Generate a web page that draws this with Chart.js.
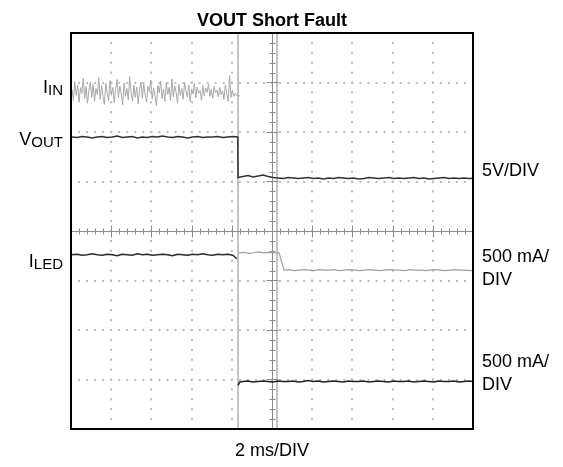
<!DOCTYPE html>
<html>
<head>
<meta charset="utf-8">
<title>VOUT Short Fault</title>
<script src="https://cdn.jsdelivr.net/npm/chart.js@4.4.1/dist/chart.umd.min.js"></script>
<style>
  body { margin: 0; background: #fff; }
  #scope { display: block; }
</style>
</head>
<body>
<canvas id="scope" width="563" height="467"></canvas>
<script>
// Datos (x en ms, y en divisiones desde el centro)
const timeMin = -10;
const timeMax = 10;
const divMin = -4;
const divMax = 4;

// IIN antes del fallo (ruidoso)
const iinStart = -9.95;
const iinStep = 0.07;
const iinValues = [
  2.86, 2.64, 3.02, 2.74, 2.95, 2.60, 2.90, 2.78, 3.08, 2.68,
  2.92, 2.58, 2.84, 3.00, 2.70, 2.96, 2.62, 2.88, 2.76, 3.10,
  2.66, 2.94, 2.72, 2.56, 2.98, 2.80, 2.63, 3.04, 2.74, 2.90,
  2.59, 2.86, 3.06, 2.69, 2.93, 2.77, 2.55, 2.99, 2.72, 2.88,
  2.65, 3.12, 2.78, 2.62, 2.95, 2.70, 2.91, 2.57, 2.84, 3.01,
  2.68, 2.97, 2.75, 2.60, 2.92, 2.82, 3.05, 2.66, 2.89, 2.73,
  2.53, 2.94, 2.79, 3.03, 2.67, 2.87, 2.62, 2.99, 2.76, 2.90,
  2.64, 3.07, 2.71, 2.93, 2.80, 2.58, 2.96, 2.74, 2.88, 2.66,
  3.00, 2.83, 2.70, 2.95, 2.61, 2.87, 2.77, 2.98, 2.69, 2.91,
  2.78, 2.84, 2.64, 2.94, 2.73, 2.89, 2.80, 2.97, 2.72, 2.86,
  2.68, 2.92, 2.79, 2.85, 2.71, 2.90, 2.75, 2.83, 2.66, 2.95,
  2.77, 2.62, 3.14, 2.70, 2.84, 2.72, 2.78
];
const iinTailTimes = [-1.75, -1.6];
const iinTailValues = [2.73, 2.73];

// Traza inferior tras el fallo
const lowTimes = [-1.69, -1.6];
const lowHook = [-3.12, -3.05];
const lowStart = -1.45;
const lowStep = 0.25;
const lowValues = [
  -3.04, -3.03, -3.05, -3.04, -3.03, -3.04, -3.05, -3.03, -3.04, -3.04,
  -3.03, -3.05, -3.04, -3.02, -3.04, -3.03, -3.05, -3.04, -3.03, -3.04,
  -3.05, -3.03, -3.04, -3.04, -3.03, -3.05, -3.04, -3.03, -3.04, -3.05,
  -3.03, -3.04, -3.04, -3.03, -3.05, -3.04, -3.03, -3.04, -3.05, -3.03,
  -3.04, -3.04, -3.03, -3.05, -3.04, -3.03, -3.04
];

// VOUT
const voutStart = -9.95;
const voutStep = 0.25;
const voutValues = [
  1.90, 1.89, 1.91, 1.90, 1.88, 1.90, 1.91, 1.89, 1.90, 1.92,
  1.89, 1.90, 1.91, 1.88, 1.90, 1.89, 1.91, 1.90, 1.92, 1.90,
  1.89, 1.91, 1.90, 1.88, 1.90, 1.91, 1.89, 1.90, 1.90, 1.91,
  1.89, 1.90, 1.91, 1.90
];
const voutFaultStart = -1.69;
const voutFaultValues = [
  1.08, 1.10, 1.12, 1.09, 1.11, 1.13, 1.10, 1.08, 1.07, 1.06,
  1.08, 1.07, 1.06, 1.07, 1.08, 1.06, 1.07, 1.05, 1.07, 1.06,
  1.08, 1.07, 1.06, 1.07, 1.05, 1.06, 1.08, 1.07, 1.06, 1.07,
  1.08, 1.06, 1.07, 1.06, 1.07, 1.08, 1.06, 1.07, 1.05, 1.06,
  1.07, 1.08, 1.06, 1.07, 1.06, 1.07, 1.06, 1.07
];

// ILED
const iledStart = -9.95;
const iledStep = 0.25;
const iledValues = [
  -0.48, -0.47, -0.49, -0.48, -0.46, -0.48, -0.49, -0.47, -0.48, -0.50,
  -0.47, -0.48, -0.49, -0.46, -0.48, -0.47, -0.49, -0.48, -0.47, -0.48,
  -0.50, -0.47, -0.48, -0.49, -0.47, -0.48, -0.46, -0.48, -0.49, -0.47,
  -0.48, -0.47, -0.49
];
const iledHookTimes = [-1.75];
const iledHookValues = [-0.56];
const iledFaultStart = -1.65;
const iledFaultStep = 0.25;
const iledFaultValues = [
  -0.44, -0.43, -0.45, -0.44, -0.42, -0.44, -0.43, -0.44, -0.44,
  -0.79, -0.78, -0.80, -0.79, -0.78, -0.79, -0.80, -0.78, -0.79, -0.79,
  -0.78, -0.80, -0.79, -0.78, -0.79, -0.80, -0.79, -0.78, -0.79, -0.80,
  -0.79, -0.78, -0.79, -0.79, -0.80, -0.78, -0.79, -0.79, -0.80, -0.79,
  -0.78, -0.79, -0.80, -0.79, -0.78, -0.79, -0.79, -0.80, -0.79
];

// Cursores verticales
const cursorTimes = [-1.69, 0.25];

// Textos
const titleText = 'VOUT Short Fault';
const timebaseText = '2 ms/DIV';
const leftLabels = [
  { main: 'I', sub: 'IN', level: 2.90 },
  { main: 'V', sub: 'OUT', level: 1.85 },
  { main: 'I', sub: 'LED', level: -0.60 }
];
const rightLabels = [
  { lines: ['5V/DIV'], level: 1.23 },
  { lines: ['500 mA/', 'DIV'], level: -0.50 },
  { lines: ['500 mA/', 'DIV'], level: -2.63 }
];

// Convertir muestras a puntos
function toPoints(start, step, values) {
  return values.map((v, i) => ({ x: start + i * step, y: v }));
}
function pairPoints(times, values) {
  return times.map((t, i) => ({ x: t, y: values[i] }));
}

const FONT = '"Liberation Sans", Arial, sans-serif';

// Plugin para la rejilla del osciloscopio y los textos
const scopePlugin = {
  id: 'scope',
  beforeDatasetsDraw(chart) {
    const ctx = chart.ctx;
    const xs = chart.scales.x;
    const ys = chart.scales.y;
    const a = chart.chartArea;
    ctx.save();
    // rejilla punteada
    ctx.fillStyle = '#bcbcbc';
    for (let t = timeMin + 2; t < timeMax; t += 2) {
      if (t === 0) continue;
      const px = Math.round(xs.getPixelForValue(t));
      for (let d = divMin; d <= divMax; d += 0.2) {
        ctx.fillRect(px - 1, ys.getPixelForValue(d) - 1, 2, 2);
      }
    }
    for (let d = divMin + 1; d < divMax; d += 1) {
      if (d === 0) continue;
      const py = Math.round(ys.getPixelForValue(d));
      for (let t = timeMin; t <= timeMax; t += 0.4) {
        ctx.fillRect(xs.getPixelForValue(t) - 1, py - 1, 2, 2);
      }
    }
    // ejes centrales con marcas
    const cx = Math.round(xs.getPixelForValue(0)) + 0.5;
    const cy = Math.round(ys.getPixelForValue(0)) + 0.5;
    ctx.strokeStyle = '#8c8c8c';
    ctx.lineWidth = 1;
    ctx.beginPath();
    ctx.moveTo(a.left, cy); ctx.lineTo(a.right, cy);
    ctx.moveTo(cx, a.top); ctx.lineTo(cx, a.bottom);
    for (let t = timeMin; t <= timeMax + 0.01; t += 0.4) {
      const px = Math.round(xs.getPixelForValue(t)) + 0.5;
      const len = Math.abs(t / 2 - Math.round(t / 2)) < 0.01 ? 6 : 3;
      ctx.moveTo(px, cy - len); ctx.lineTo(px, cy + len);
    }
    for (let d = divMin; d <= divMax + 0.01; d += 0.2) {
      const py = Math.round(ys.getPixelForValue(d)) + 0.5;
      const len = Math.abs(d - Math.round(d)) < 0.01 ? 6 : 3;
      ctx.moveTo(cx - len, py); ctx.lineTo(cx + len, py);
    }
    ctx.stroke();
    ctx.restore();
  },
  afterDraw(chart) {
    const ctx = chart.ctx;
    const ys = chart.scales.y;
    const a = chart.chartArea;
    ctx.save();
    // marco
    ctx.strokeStyle = '#000';
    ctx.lineWidth = 2;
    ctx.strokeRect(a.left, a.top, a.right - a.left, a.bottom - a.top);
    // titulo
    ctx.fillStyle = '#000';
    ctx.textAlign = 'center';
    ctx.textBaseline = 'alphabetic';
    ctx.font = 'bold 18px ' + FONT;
    ctx.fillText(titleText, (a.left + a.right) / 2, 26);
    ctx.font = '18px ' + FONT;
    ctx.fillText(timebaseText, (a.left + a.right) / 2, 456);
    // etiquetas izquierdas con subindice
    ctx.textAlign = 'left';
    leftLabels.forEach(l => {
      const base = ys.getPixelForValue(l.level) + 6;
      ctx.font = '18px ' + FONT;
      const mw = ctx.measureText(l.main).width;
      ctx.font = '15px ' + FONT;
      const sw = ctx.measureText(l.sub).width;
      const x0 = a.left - 8 - mw - sw;
      ctx.font = '18px ' + FONT;
      ctx.fillText(l.main, x0, base);
      ctx.font = '15px ' + FONT;
      ctx.fillText(l.sub, x0 + mw, base + 2);
    });
    // etiquetas derechas
    ctx.font = '18px ' + FONT;
    rightLabels.forEach(l => {
      const base = ys.getPixelForValue(l.level) + 6;
      l.lines.forEach((s, i) => {
        ctx.fillText(s, a.right + 9, base + i * 23);
      });
    });
    ctx.restore();
  }
};

const traceStyle = (color, width) => ({
  borderColor: color,
  borderWidth: width,
  pointRadius: 0,
  tension: 0,
  fill: false
});

const datasets = [
  Object.assign({ label: 'IIN', data: toPoints(iinStart, iinStep, iinValues).concat(pairPoints(iinTailTimes, iinTailValues)) }, traceStyle('#a8a8a8', 1)),
  Object.assign({ label: 'VOUT', data: toPoints(voutStart, voutStep, voutValues).concat(toPoints(voutFaultStart, voutStep, voutFaultValues)) }, traceStyle('#333333', 1.5)),
  Object.assign({ label: 'ILED', data: toPoints(iledStart, iledStep, iledValues).concat(pairPoints(iledHookTimes, iledHookValues)) }, traceStyle('#2a2a2a', 1.5)),
  Object.assign({ label: 'ILED fallo', data: toPoints(iledFaultStart, iledFaultStep, iledFaultValues) }, traceStyle('#a0a0a0', 1.2)),
  Object.assign({ label: 'IIN fallo', data: pairPoints(lowTimes, lowHook).concat(toPoints(lowStart, lowStep, lowValues)) }, traceStyle('#222222', 1.5))
];
cursorTimes.forEach((t, i) => {
  datasets.push(Object.assign({ label: 'cursor' + i, data: [{ x: t, y: divMin }, { x: t, y: divMax }] }, traceStyle('#8a8a8a', 1)));
});

const chart = new Chart(document.getElementById('scope').getContext('2d'), {
  type: 'line',
  data: { datasets: datasets },
  options: {
    responsive: false,
    animation: false,
    events: [],
    layout: { padding: { left: 71, right: 90, top: 33, bottom: 38 } },
    scales: {
      x: { type: 'linear', min: timeMin, max: timeMax, display: false },
      y: { type: 'linear', min: divMin, max: divMax, display: false }
    },
    plugins: {
      legend: { display: false },
      tooltip: { enabled: false }
    }
  },
  plugins: [scopePlugin]
});
</script>
</body>
</html>
